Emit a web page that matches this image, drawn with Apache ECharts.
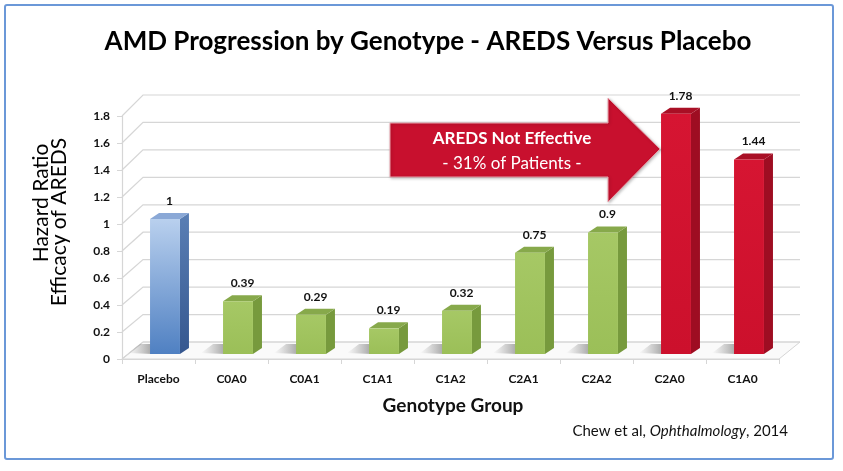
<!DOCTYPE html>
<html><head><meta charset="utf-8">
<script src="https://cdn.jsdelivr.net/npm/echarts@6/dist/echarts.min.js"></script>
<style>html,body{margin:0;padding:0;background:#fff}#c{width:843px;height:471px}</style>
</head><body><div id="c"></div>
<script>
// ---- data ----
const categories = ['Placebo', 'C0A0', 'C0A1', 'C1A1', 'C1A2', 'C2A1', 'C2A2', 'C2A0', 'C1A0'];
const hazardRatios = [1, 0.39, 0.29, 0.19, 0.32, 0.75, 0.9, 1.78, 1.44];
const barGroups = ['placebo', 'effective', 'effective', 'effective', 'effective', 'effective', 'effective', 'notEffective', 'notEffective'];
const yTicks = [0, 0.2, 0.4, 0.6, 0.8, 1, 1.2, 1.4, 1.6, 1.8];
const titleText = 'AMD Progression by Genotype - AREDS Versus Placebo';
const yNameLines = ['Hazard Ratio', 'Efficacy of AREDS'];
const xName = 'Genotype Group';
const arrowLines = ['AREDS Not Effective', '- 31% of Patients -'];

// ---- styles ----
const FONT = 'Lato, "Open Sans", sans-serif';
const G = echarts.graphic;
const palette = {
  placebo: {
    front: new G.LinearGradient(0, 0, 0, 1, [{offset: 0, color: '#b9d0ee'}, {offset: 1, color: '#4f80c2'}]),
    side: new G.LinearGradient(0, 0, 0, 1, [{offset: 0, color: '#5a7fb5'}, {offset: 1, color: '#35578f'}]),
    top: '#8aa8d6'
  },
  effective: {
    front: new G.LinearGradient(0, 0, 0, 1, [{offset: 0, color: '#a6c865'}, {offset: 1, color: '#9bbf58'}]),
    side: '#779a3d',
    top: '#87a94b'
  },
  notEffective: {
    front: new G.LinearGradient(0, 0, 0, 1, [{offset: 0, color: '#d61532'}, {offset: 1, color: '#cc102c'}]),
    side: '#9e0d22',
    top: '#a90f25'
  }
};
const BAR_OFF_X = 6.5, BAR_OFF_Y = -5;   // bar position inside floor depth
const BAR_DX = 9, BAR_DY = 6;            // bar depth
const WALL_DX = 21, WALL_DY0 = 17, WALL_DY1 = 21;  // floor depth (bottom / top of wall)
const GRID_COLOR = '#d6d6d6';

const chart = echarts.init(document.getElementById('c'), null, {renderer: 'canvas'});

function renderWall(params, api) {
  const t = api.value(1);
  const cs = params.coordSys;
  const y = api.coord([0, t])[1];
  const dy = WALL_DY0 + (WALL_DY1 - WALL_DY0) * (t / 1.8);
  const x0 = cs.x, x1 = cs.x + cs.width;
  const children = [];
  if (t === 0) {
    children.push({
      type: 'polygon',
      shape: {points: [[x0, y], [x1, y], [x1 + WALL_DX, y - dy], [x0 + WALL_DX, y - dy]]},
      style: {fill: '#fafafa', stroke: GRID_COLOR, lineWidth: 1}
    });
  }
  children.push({
    type: 'polyline',
    shape: {points: [[x0, y], [x0 + WALL_DX, y - dy], [x1 + WALL_DX, y - dy]]},
    style: {fill: null, stroke: GRID_COLOR, lineWidth: 1.2}
  });
  return {type: 'group', children};
}

function renderBar(params, api) {
  const i = api.value(0), v = api.value(1);
  const base = api.coord([i, 0]);
  const top = api.coord([i, v]);
  const band = api.size([1, 0])[0];
  const w = band * 0.41;
  const cx = base[0] + BAR_OFF_X;
  const xL = cx - w / 2, xR = cx + w / 2;
  const yB = base[1] + BAR_OFF_Y, yT = top[1] + BAR_OFF_Y;
  const c = palette[barGroups[i]];
  return {
    type: 'group',
    children: [
      {
        type: 'polygon',
        shape: {points: [[xL - 22, yB - 1], [xL + 2, yB], [xL + 2 + BAR_DX, yB - BAR_DY - 4], [xL - 10, yB - BAR_DY - 4]]},
        style: {fill: new G.LinearGradient(0, 0, 1, 0, [{offset: 0, color: 'rgba(80,80,80,0)'}, {offset: 1, color: 'rgba(50,50,50,0.6)'}])}
      },
      {type: 'polygon', shape: {points: [[xR, yT], [xR + BAR_DX, yT - BAR_DY], [xR + BAR_DX, yB - BAR_DY], [xR, yB]]}, style: {fill: c.side}},
      {type: 'polygon', shape: {points: [[xL, yT], [xL + BAR_DX, yT - BAR_DY], [xR + BAR_DX, yT - BAR_DY], [xR, yT]]}, style: {fill: c.top}},
      {type: 'rect', shape: {x: xL, y: yT, width: w, height: yB - yT}, style: {fill: c.front}},
      {
        type: 'text',
        style: {text: String(v), x: cx + BAR_DX / 2, y: yT - 18, align: 'center', verticalAlign: 'middle',
          font: 'bold 12px ' + FONT, fill: '#111'}
      }
    ]
  };
}

const option = {
  backgroundColor: '#fff',
  animation: false,
  grid: {left: 122, right: 64, top: 116, bottom: 112},
  xAxis: {
    type: 'category',
    data: categories,
    boundaryGap: true,
    axisLine: {show: true, lineStyle: {color: GRID_COLOR, width: 1.2}},
    axisTick: {show: true, length: 5, lineStyle: {color: GRID_COLOR}},
    axisLabel: {margin: 14, color: '#111', fontFamily: FONT, fontWeight: 'bold', fontSize: 12},
    splitLine: {show: false}
  },
  yAxis: {
    type: 'value',
    min: 0, max: 1.8, interval: 0.2,
    axisLine: {show: true, lineStyle: {color: GRID_COLOR, width: 1.2}},
    axisTick: {show: true, length: 5, lineStyle: {color: GRID_COLOR}},
    axisLabel: {margin: 12, color: '#111', fontFamily: FONT, fontWeight: 'bold', fontSize: 12},
    splitLine: {show: false}
  },
  series: [
    {
      type: 'custom', name: 'wall', silent: true, z: 1,
      data: yTicks.map(t => [0, t]),
      renderItem: renderWall
    },
    {
      type: 'custom', name: 'bars', silent: true, z: 3,
      data: hazardRatios.map((v, i) => [i, v]),
      renderItem: renderBar
    }
  ],
  graphic: [
    {type: 'rect', shape: {x: 5, y: 5, width: 828, height: 454, r: 2}, style: {fill: null, stroke: '#6b98d8', lineWidth: 2}, z: 100},
    {type: 'text', x: 428, y: 42, style: {text: titleText, align: 'center', verticalAlign: 'middle', font: 'bold 26px ' + FONT, fill: '#000'}},
    {type: 'text', x: 41, y: 203, rotation: Math.PI / 2, style: {text: yNameLines[0], align: 'center', verticalAlign: 'middle', font: '21px ' + FONT, fill: '#000'}},
    {type: 'text', x: 59, y: 222, rotation: Math.PI / 2, style: {text: yNameLines[1], align: 'center', verticalAlign: 'middle', font: '21px ' + FONT, fill: '#000'}},
    {type: 'text', x: 453, y: 406, style: {text: xName, align: 'center', verticalAlign: 'middle', font: 'bold 19px ' + FONT, fill: '#111'}},
    {
      type: 'text', x: 788, y: 431,
      style: {
        text: '{n|Chew et al, }{i|Ophthalmology}{n|, 2014}', align: 'right', verticalAlign: 'middle',
        rich: {
          n: {font: '15px ' + FONT, fill: '#111'},
          i: {font: 'italic 15px ' + FONT, fill: '#111'}
        }
      }
    },
    {
      type: 'polygon', z: 50,
      shape: {points: [[390, 123], [608, 123], [608, 98], [660, 149], [608, 202], [608, 177], [390, 177]]},
      style: {fill: '#c8102e', stroke: '#e9a3ad', lineWidth: 1, shadowBlur: 3, shadowColor: 'rgba(0,0,0,0.25)', shadowOffsetX: 1, shadowOffsetY: 1}
    },
    {type: 'text', x: 512, y: 139, z: 51, style: {text: arrowLines[0], align: 'center', verticalAlign: 'middle', font: 'bold 17px ' + FONT, fill: '#fff'}},
    {type: 'text', x: 512, y: 164, z: 51, style: {text: arrowLines[1], align: 'center', verticalAlign: 'middle', font: '17px ' + FONT, fill: '#fff'}}
  ]
};
chart.setOption(option);
</script>
</body></html>
